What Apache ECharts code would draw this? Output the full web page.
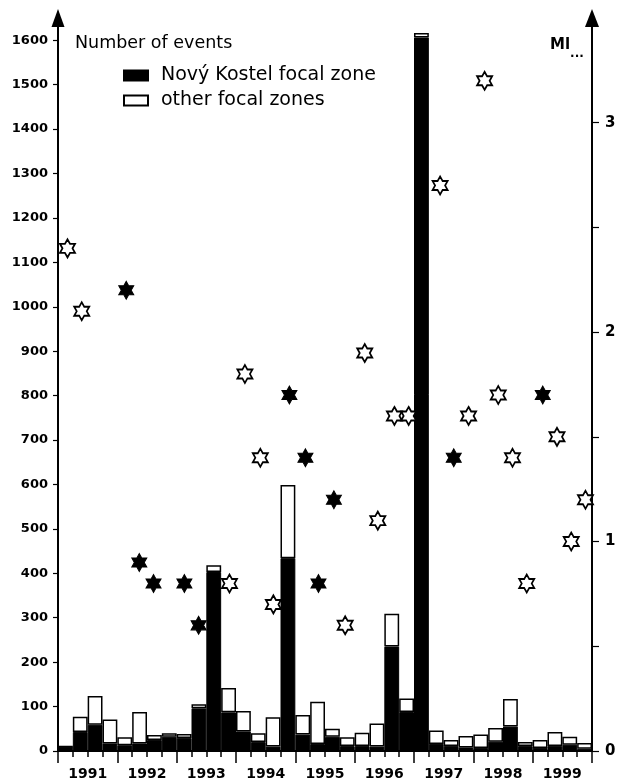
<!DOCTYPE html>
<html>
<head>
<meta charset="utf-8">
<script src="https://cdn.jsdelivr.net/npm/echarts@6/dist/echarts.min.js"></script>
<style>
html,body{margin:0;padding:0;background:#fff;}
#c{width:628px;height:783px;}
</style>
</head>
<body>
<div id="c"></div>
<script>
// Quarterly categories 1991 Q1 .. 1999 Q4
const quarters = [
  '1991 Q1','1991 Q2','1991 Q3','1991 Q4',
  '1992 Q1','1992 Q2','1992 Q3','1992 Q4',
  '1993 Q1','1993 Q2','1993 Q3','1993 Q4',
  '1994 Q1','1994 Q2','1994 Q3','1994 Q4',
  '1995 Q1','1995 Q2','1995 Q3','1995 Q4',
  '1996 Q1','1996 Q2','1996 Q3','1996 Q4',
  '1997 Q1','1997 Q2','1997 Q3','1997 Q4',
  '1998 Q1','1998 Q2','1998 Q3','1998 Q4',
  '1999 Q1','1999 Q2','1999 Q3','1999 Q4'
];
// Number of events per quarter
const novyKostel = [10,43,59,17, 13,17,25,32, 29,96,403,87, 44,20,10,434, 37,16,32,11, 11,10,235,88, 1606,16,11,8, 7,21,55,11, 7,11,14,5];
const otherZones = [0,34,65,54, 18,71,11,8, 9,9,15,55, 46,20,66,165, 44,95,18,20, 30,52,74,30, 10,30,14,26, 30,31,62,9, 18,32,18,13];

// Strongest events (time in years, magnitude Ml)
const nkStarTime = [1992.15,1992.37,1992.61,1993.13,1993.37,1994.90,1995.17,1995.39,1995.65,1997.67,1999.17];
const nkStarMl   = [2.2,0.9,0.8,0.8,0.6,1.7,1.4,0.8,1.2,1.4,1.7];
const otStarTime = [1991.16,1991.40,1993.89,1994.15,1994.41,1994.63,1995.84,1996.17,1996.39,1996.67,1996.91,1997.44,1997.92,1998.19,1998.42,1998.66,1998.90,1999.41,1999.65,1999.89];
const otStarMl   = [2.4,2.1,0.8,1.8,1.4,0.7,0.6,1.9,1.1,1.6,1.6,2.7,1.6,3.2,1.7,1.4,0.8,1.5,1.0,1.2];

// Axis tick labels
const leftTicks = [0,100,200,300,400,500,600,700,800,900,1000,1100,1200,1300,1400,1500,1600];
const rightTicks = [0,0.5,1,1.5,2,2.5,3];
const rightLabels = [0,1,2,3];
const yearTicks = [1991,1992,1993,1994,1995,1996,1997,1998,1999,2000];
const yearLabels = ['1991','1992','1993','1994','1995','1996','1997','1998','1999'];

const FONT = 'DejaVu Sans';
const STAR = 'path://M10 0 L12.887 5 L18.66 5 L15.774 10 L18.66 15 L12.887 15 L10 20 L7.113 15 L1.34 15 L4.226 10 L1.34 5 L7.113 5 Z';

const chart = echarts.init(document.getElementById('c'), null, {renderer: 'canvas'});

const option = {
  animation: false,
  backgroundColor: '#ffffff',
  textStyle: {fontFamily: FONT, color: '#000'},
  title: [
    {text: 'Number of events', left: 75, top: 34, padding: 0,
     textStyle: {fontFamily: FONT, fontSize: 17.5, fontWeight: 'normal', color: '#000'}},
    {text: '{a|Ml}{b|...}', left: 550, top: 38, padding: 0,
     textStyle: {rich: {
       a: {fontFamily: FONT, fontSize: 15, fontWeight: 'bold', color: '#000', verticalAlign: 'top'},
       b: {fontFamily: FONT, fontSize: 12, fontWeight: 'bold', color: '#000', padding: [10, 0, 0, 0]}
     }}}
  ],
  legend: {
    orient: 'vertical', left: 123, top: 66, padding: 0, itemWidth: 24, itemHeight: 10, itemGap: 6,
    data: ['Nový Kostel focal zone', 'other focal zones'],
    icon: 'rect',
    textStyle: {fontFamily: FONT, fontSize: 19, color: '#000', lineHeight: 18, padding: [0, 0, 0, 8]}
  },
  grid: {left: 58, right: 36, top: 18, bottom: 32, containLabel: false},
  xAxis: [
    {type: 'category', data: quarters, show: false, position: 'bottom', boundaryGap: true},
    {type: 'value', min: 1991, max: 2000, interval: 1, position: 'bottom',
     axisLine: {show: true, onZero: false, lineStyle: {color: '#000', width: 2}},
     axisTick: {show: true, customValues: yearTicks, length: 12, lineStyle: {color: '#000', width: 1.5}},
     minorTick: {show: true, splitNumber: 4, length: 6, lineStyle: {color: '#000', width: 1.5}},
     axisLabel: {customValues: yearLabels.map(y => +y + 0.5), formatter: v => String(Math.floor(v)),
                 margin: 16, fontFamily: FONT, fontSize: 14, fontWeight: 'bold', color: '#000'},
     splitLine: {show: false}, minorSplitLine: {show: false}}
  ],
  yAxis: [
    {type: 'value', min: 0, max: 1650, position: 'left',
     axisLine: {show: true, onZero: false, symbol: ['none', 'triangle'], symbolSize: [13, 18],
                lineStyle: {color: '#000', width: 2}},
     axisTick: {show: true, customValues: leftTicks, length: 5, lineStyle: {color: '#000', width: 1.2}},
     axisLabel: {customValues: leftTicks, formatter: v => String(v), margin: 10,
                 fontFamily: FONT, fontSize: 13, fontWeight: 'bold', color: '#000'},
     splitLine: {show: false}},
    {type: 'value', min: 0, max: 3.5, position: 'right',
     axisLine: {show: true, onZero: false, symbol: ['none', 'triangle'], symbolSize: [14, 18],
                lineStyle: {color: '#000', width: 2}},
     axisTick: {show: true, customValues: rightTicks, length: 7, lineStyle: {color: '#000', width: 1.2}},
     axisLabel: {customValues: rightLabels, formatter: v => String(v), margin: 13,
                 fontFamily: FONT, fontSize: 15, fontWeight: 'bold', color: '#000'},
     splitLine: {show: false}}
  ],
  series: [
    {name: 'Nový Kostel focal zone', type: 'bar', stack: 'ev', xAxisIndex: 0, yAxisIndex: 0,
     data: novyKostel, barCategoryGap: '0%', barGap: '0%',
     itemStyle: {color: '#000', borderColor: '#000', borderWidth: 1}},
    {name: 'other focal zones', type: 'bar', stack: 'ev', xAxisIndex: 0, yAxisIndex: 0,
     data: otherZones, barCategoryGap: '0%', barGap: '0%',
     itemStyle: {color: '#fff', borderColor: '#000', borderWidth: 1.5}},
    {name: 'Nový Kostel Ml', type: 'scatter', xAxisIndex: 1, yAxisIndex: 1,
     data: nkStarTime.map((t, i) => [t, nkStarMl[i]]),
     symbol: STAR, symbolSize: [15, 18],
     itemStyle: {color: '#000', borderColor: '#000', borderWidth: 1, opacity: 1}, z: 5},
    {name: 'other Ml', type: 'scatter', xAxisIndex: 1, yAxisIndex: 1,
     data: otStarTime.map((t, i) => [t, otStarMl[i]]),
     symbol: STAR, symbolSize: [15, 18],
     itemStyle: {color: '#fff', borderColor: '#000', borderWidth: 1.8, opacity: 1}, z: 5}
  ]
};
chart.setOption(option);
</script>
</body>
</html>
